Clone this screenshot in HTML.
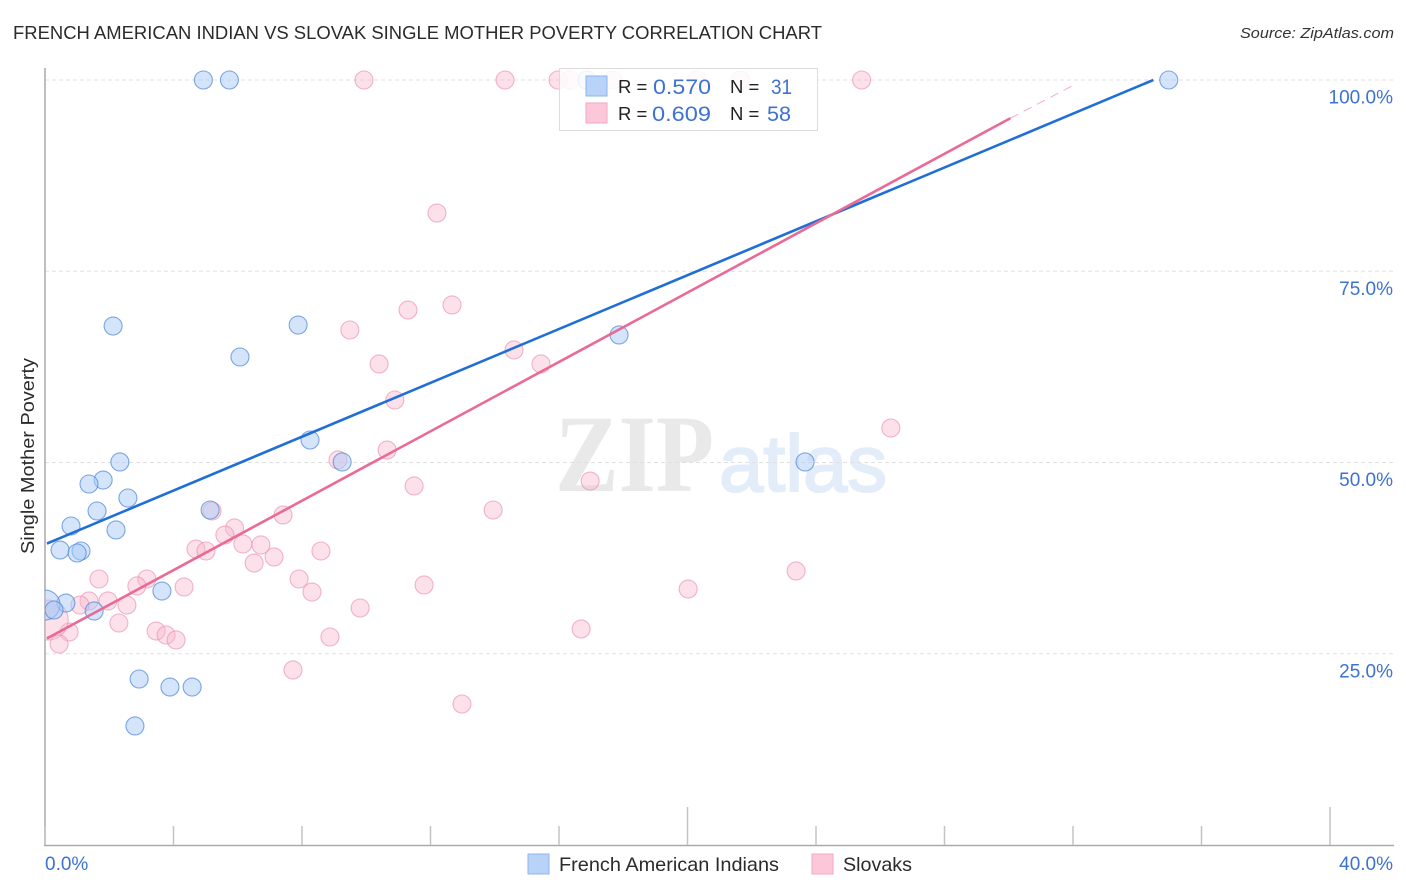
<!DOCTYPE html>
<html lang="en">
<head>
<meta charset="utf-8">
<title>French American Indian vs Slovak Single Mother Poverty Correlation Chart</title>
<style>
html,body{margin:0;padding:0;background:#fff;width:1406px;height:892px;overflow:hidden}
svg{display:block;font-family:"Liberation Sans",Arial,sans-serif}
</style>
</head>
<body>
<svg id="chart" width="1406" height="892" viewBox="0 0 1406 892" xmlns="http://www.w3.org/2000/svg">
  <defs>
    <clipPath id="plot-clip"><rect x="45" y="60" width="1350" height="785"/></clipPath>
  </defs>
  <text x="13" y="39" font-size="18.5" fill="#2b2b2b" textLength="809" lengthAdjust="spacingAndGlyphs">FRENCH AMERICAN INDIAN VS SLOVAK SINGLE MOTHER POVERTY CORRELATION CHART</text>
  <text x="1394" y="38" font-size="15" font-style="italic" fill="#333" text-anchor="end" textLength="154" lengthAdjust="spacingAndGlyphs">Source: ZipAtlas.com</text>
  <g>
    <text x="555" y="491" font-family="'Liberation Serif',serif" font-size="110" font-weight="bold" fill="#e9e9e9" textLength="159" lengthAdjust="spacingAndGlyphs">ZIP</text>
    <text x="719" y="491" font-family="'Liberation Sans',sans-serif" font-size="80" fill="#e3edfa" stroke="#e3edfa" stroke-width="2" textLength="168" lengthAdjust="spacingAndGlyphs">atlas</text>
  </g>
  <g id="grid"></g>
  <g id="axes"></g>
  <g id="points" clip-path="url(#plot-clip)"></g>
  <g id="lines"></g>
  <g>
    <rect x="559.5" y="68.5" width="258" height="62" fill="#fff" fill-opacity="0.86" stroke="#dcdcdc"/>
    <rect x="586" y="76" width="21" height="20" fill="#b9d3f8" stroke="#8db5ea"/>
    <rect x="586" y="103" width="21" height="20" fill="#fcc7d8" stroke="#f3a9c0"/>
    <text x="618" y="93" font-size="18.5" fill="#222">R =</text>
    <text x="653" y="94" font-size="21" fill="#3d72d1" textLength="58" lengthAdjust="spacingAndGlyphs">0.570</text>
    <text x="730" y="93" font-size="18.5" fill="#222">N =</text>
    <text x="771" y="94" font-size="21" fill="#3d72d1" textLength="21" lengthAdjust="spacingAndGlyphs">31</text>
    <text x="618" y="120" font-size="18.5" fill="#222">R =</text>
    <text x="652" y="121" font-size="21" fill="#3d72d1" textLength="59" lengthAdjust="spacingAndGlyphs">0.609</text>
    <text x="730" y="120" font-size="18.5" fill="#222">N =</text>
    <text x="767" y="121" font-size="21" fill="#3d72d1" textLength="24" lengthAdjust="spacingAndGlyphs">58</text>
  </g>
  <text transform="translate(34 456) rotate(-90)" font-size="18.5" fill="#2b2b2b" text-anchor="middle" textLength="196" lengthAdjust="spacingAndGlyphs">Single Mother Poverty</text>
  <g>
    <rect x="528" y="854" width="21" height="20" fill="#b9d3f8" stroke="#8db5ea"/>
    <text x="559" y="871" font-size="19.5" fill="#2b2b2b" textLength="220" lengthAdjust="spacingAndGlyphs">French American Indians</text>
    <rect x="812" y="854" width="21" height="20" fill="#fcc7d8" stroke="#f3a9c0"/>
    <text x="843" y="871" font-size="19.5" fill="#2b2b2b" textLength="69" lengthAdjust="spacingAndGlyphs">Slovaks</text>
  </g>
</svg>
<script>
// Axis tick values
const xTickValues = [0, 4, 8, 12, 16, 20, 24, 28, 32, 36, 40];
const xMajorTicks = [20, 40];
const xEdgeLabels = [0, 40];
const yTickValues = [25, 50, 75, 100];

// French American Indians: x = share %, y = single mother poverty %
const blueX = [4.93, 5.74, 16.87, 34.98, 2.12, 7.88, 6.07, 17.87, 8.25, 9.25, 2.33, 23.66, 1.81, 1.37, 2.58, 1.62, 5.14, 0.81, 2.21, 0.47, 1.12, 1.0, 3.64, 0.65, 0.0, 0.28, 1.53, 2.93, 3.89, 4.58, 2.8];
const blueY = [100, 100, 100, 100, 67.84, 67.97, 63.79, 66.67, 52.94, 50.07, 50.07, 50.07, 47.71, 47.19, 45.36, 43.66, 43.79, 41.7, 41.18, 38.56, 38.43, 38.17, 33.2, 31.63, 31.37, 30.72, 30.59, 21.7, 20.65, 20.65, 15.56];
const blueSize = [9, 9, 9, 9, 9, 9, 9, 9, 9, 9, 9, 9, 9, 9, 9, 9, 9, 9, 9, 9, 9, 9, 9, 9, 15, 9, 9, 9, 9, 9, 9];

// Slovaks: x = share %, y = single mother poverty %
const pinkX = [9.93, 14.32, 15.97, 16.34, 17.68, 20.3, 21.64, 25.42, 12.2, 12.67, 11.3, 9.49, 10.4, 14.6, 15.44, 10.89, 26.33, 9.12, 10.65, 11.49, 16.97, 13.95, 5.2, 7.41, 5.9, 5.6, 6.16, 6.72, 4.7, 5.01, 8.59, 7.13, 6.51, 23.38, 1.68, 3.17, 7.91, 2.86, 4.33, 11.8, 20.02, 8.31, 1.37, 1.96, 1.09, 2.55, 9.81, 2.3, 16.69, 3.46, 3.77, 4.08, 8.87, 0.75, 0.1, 0.44, 7.72, 12.98];
const pinkY = [100, 100, 100, 100, 100, 100, 100, 100, 82.61, 70.59, 69.93, 67.32, 62.88, 64.71, 62.88, 58.17, 54.51, 50.33, 51.63, 46.93, 47.58, 43.79, 43.66, 43.14, 41.44, 40.52, 39.35, 39.22, 38.69, 38.43, 38.43, 37.65, 36.86, 35.82, 34.77, 34.77, 34.77, 33.86, 33.73, 33.99, 33.46, 33.07, 31.9, 31.9, 31.37, 31.37, 30.98, 29.02, 28.24, 27.97, 27.45, 26.8, 27.19, 27.84, 29.41, 26.27, 22.88, 18.43];
const pinkSize = [9, 9, 9, 9, 9, 9, 9, 9, 9, 9, 9, 9, 9, 9, 9, 9, 9, 9, 9, 9, 9, 9, 9, 9, 9, 9, 9, 9, 9, 9, 9, 9, 9, 9, 9, 9, 9, 9, 9, 9, 9, 9, 9, 9, 9, 9, 9, 9, 9, 9, 9, 9, 9, 9, 20, 9, 9, 9];

// Trend endpoints [start, end] in data units
const blueTrendX = [0.06, 34.5];
const blueTrendY = [39.4, 100];
const pinkTrendX = [0.06, 30.05];
const pinkTrendY = [27, 95];
const pinkDashX = [30.05, 32.1];
const pinkDashY = [95, 99.5];

const NS = 'http://www.w3.org/2000/svg';
const xScale = v => 45 + v * 32.125;
const yScale = v => 845 - v * 7.65;
function make(tag, parent, attrs) {
  const el = document.createElementNS(NS, tag);
  for (const k in attrs) el.setAttribute(k, attrs[k]);
  parent.appendChild(el);
  return el;
}
const grid = document.getElementById('grid');
const axes = document.getElementById('axes');
const pts = document.getElementById('points');
const lines = document.getElementById('lines');

yTickValues.forEach(v => {
  const g = make('line', grid, {x1: 45, x2: 1394, y1: yScale(v), y2: yScale(v), stroke: '#e0e0e0', 'stroke-width': 1, 'stroke-dasharray': '4 3'});
  
  
  const t = make('text', axes, {x: 1393, y: yScale(v) + 23.5, 'font-size': 19, fill: '#3d72d1', 'text-anchor': 'end'});
  t.textContent = v.toFixed(1) + '%';
  
  
});

const yAxis = make('line', axes, {x1: 45, x2: 45, y1: 68, y2: 846, stroke: '#aaa', 'stroke-width': 1.5});


const xAxis = make('line', axes, {x1: 44, x2: 1394, y1: 845.5, y2: 845.5, stroke: '#aaa', 'stroke-width': 1.5});



xTickValues.forEach(v => {
  const major = xMajorTicks.includes(v);
  const tick = make('line', axes, {x1: xScale(v), x2: xScale(v), y1: major ? 807 : 826, y2: 845, stroke: '#c4c4c4', 'stroke-width': 1.5});
  
  
});
xEdgeLabels.forEach(v => {
  const first = v === xEdgeLabels[0];
  const t = make('text', axes, {x: first ? 45 : 1393, y: 870, 'font-size': 19, fill: '#3d72d1', 'text-anchor': first ? 'start' : 'end'});
  t.textContent = v.toFixed(1) + '%';
  
  
});

pinkX.forEach((x, i) => {
  const c = make('circle', pts, {cx: xScale(x), cy: yScale(pinkY[i]), r: pinkSize[i], fill: '#f9b8cd', 'fill-opacity': 0.42, stroke: '#ea8fae', 'stroke-opacity': 0.65, 'stroke-width': 1.1});
  
  
});
blueX.forEach((x, i) => {
  const c = make('circle', pts, {cx: xScale(x), cy: yScale(blueY[i]), r: blueSize[i], fill: '#a9c9f5', 'fill-opacity': 0.5, stroke: '#4f86d8', 'stroke-opacity': 0.72, 'stroke-width': 1.1});
  
  
});

const blueLine = make('line', lines, {x1: xScale(blueTrendX[0]), y1: yScale(blueTrendY[0]), x2: xScale(blueTrendX[1]), y2: yScale(blueTrendY[1]), stroke: '#1f6fd6', 'stroke-width': 2.6});


const pinkLine = make('line', lines, {x1: xScale(pinkTrendX[0]), y1: yScale(pinkTrendY[0]), x2: xScale(pinkTrendX[1]), y2: yScale(pinkTrendY[1]), stroke: '#ea6a97', 'stroke-width': 2.6});


const pinkDash = make('line', lines, {x1: xScale(pinkDashX[0]), y1: yScale(pinkDashY[0]), x2: xScale(pinkDashX[1]), y2: yScale(pinkDashY[1]), stroke: '#ea6a97', 'stroke-opacity': 0.55, 'stroke-width': 1, 'stroke-dasharray': '9 6'});


</script>
</body>
</html>
